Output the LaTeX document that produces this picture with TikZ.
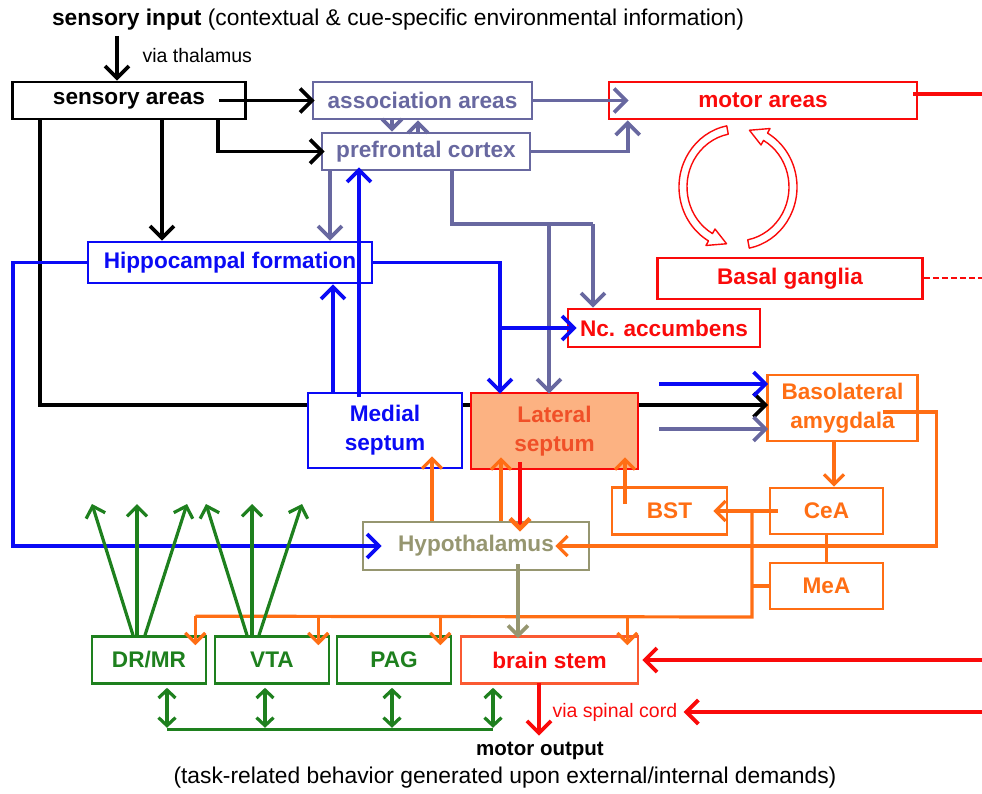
\documentclass[tikz,border=0pt]{standalone}
\usepackage{fontspec}
\setmainfont{Liberation Sans}
\usetikzlibrary{arrows.meta,calc}

\definecolor{slate}{RGB}{104,104,160}
\definecolor{hcblue}{RGB}{10,10,245}
\definecolor{hcred}{RGB}{250,10,10}
\definecolor{amyorange}{RGB}{255,110,20}
\definecolor{stemgreen}{RGB}{30,128,30}
\definecolor{hypolive}{RGB}{150,150,112}
\definecolor{lsfill}{RGB}{252,178,130}
\definecolor{lstext}{RGB}{240,80,40}
\definecolor{stemedge}{RGB}{250,90,50}

\begin{document}
\begin{tikzpicture}[x=1pt,y=-1pt,
    box/.style={draw,line width=2.6pt,inner sep=0pt,minimum height=37pt,align=center,
      font=\fontsize{22.6}{29}\selectfont\bfseries},
    blkbox/.style={box,draw=black,text=black},
    slatebox/.style={box,draw=slate,text=slate},
    redbox/.style={box,draw=hcred,text=hcred},
    bluebox/.style={box,draw=hcblue,text=hcblue},
    orbox/.style={box,draw=amyorange,text=amyorange},
    grnbox/.style={box,draw=stemgreen,text=stemgreen,minimum width=114pt,minimum height=47pt},
    tip/.style={-{Straight Barb[length=12pt,width=24pt]}},
    smalltip/.style={-{Straight Barb[length=10pt,width=20pt]}},
    blkln/.style={line width=3.8pt,draw=black},
    slateln/.style={line width=3.8pt,draw=slate},
    blueln/.style={line width=3.8pt,draw=hcblue},
    orln/.style={line width=3.2pt,draw=amyorange},
    redln/.style={line width=3.8pt,draw=hcred},
    grnln/.style={line width=3.2pt,draw=stemgreen}]

  \useasboundingbox (0,0) rectangle (982,794);

  %% Texts at top and bottom
  \node[font=\fontsize{22.8}{27}\selectfont] (title) at (398,20)
    {\textbf{sensory input} (contextual \& cue-specific environmental information)};
  \node[anchor=west,font=\fontsize{19.5}{23}\selectfont] (thaltext) at (139,56) {via thalamus};
  \node[font=\fontsize{20.5}{24}\selectfont\bfseries] (motorout) at (540,751) {motor output};
  \node[font=\fontsize{22.8}{27}\selectfont] (task) at (505,778)
    {(task-related behavior generated upon external/internal demands)};
  \node[anchor=west,text=hcred,font=\fontsize{19.5}{23}\selectfont] (spinal) at (549,712) {via spinal cord};

  %% Cortical boxes
  \node[blkbox,minimum width=233pt] (sens) at (129,100.5) {sensory areas};
  \node[slatebox,minimum width=219pt] (assoc) at (422.5,100.5) {association areas};
  \node[slatebox,minimum width=208pt] (pfc) at (426,151.5) {prefrontal cortex};
  \node[redbox,minimum width=308pt] (motor) at (763,100.5) {motor areas};
  \node[bluebox,minimum width=284pt,minimum height=41pt] (hippo) at (230,262.5) {Hippocampal formation};
  \node[redbox,minimum width=265pt,minimum height=41pt] (basal) at (790,278.5) {Basal ganglia};
  \node[redbox,minimum width=192pt,minimum height=38pt] (nacc) at (664,328) {Nc. accumbens};

  %% Septum, amygdala, hypothalamus
  \node[bluebox,minimum width=154pt,minimum height=75pt] (medial) at (385,430.5) {Medial\\septum};
  \node[box,draw=hcred,fill=lsfill,text=lstext,minimum width=167pt,minimum height=76pt] (lateral)
    at (554.5,431) {Lateral\\septum};
  \node[orbox,minimum width=150pt,minimum height=66pt] (bla) at (842.5,408) {Basolateral\\amygdala};
  \node[orbox,minimum width=113pt,minimum height=46pt] (cea) at (826.5,511) {CeA};
  \node[orbox,minimum width=113pt,minimum height=46pt] (mea) at (826.5,586) {MeA};
  \node[orbox,minimum width=115pt,minimum height=47pt] (bst) at (669.5,511) {BST};
  \node[box,draw=hypolive,text=hypolive,minimum width=226pt,minimum height=48pt] (hypo)
    at (476,546) {Hypothalamus};

  %% Brain stem row
  \node[grnbox] (drmr) at (149,660) {DR/MR};
  \node[grnbox] (vta) at (272,660) {VTA};
  \node[grnbox] (pag) at (394,660) {PAG};
  \node[box,draw=stemedge,text=hcred,minimum width=177pt,minimum height=47pt] (stem) at (549.5,660) {brain stem};

  %% Free ends
  \coordinate (thal) at (117,36);
  \coordinate (motorend) at (982,94);
  \coordinate (basalend) at (982,278.5);
  \coordinate (stemin) at (982,660);
  \coordinate (spinalin) at (982,712);
  \coordinate (blufree) at (659,384);
  \coordinate (slatefree) at (659,429);
  \coordinate (ojoin) at (752,617);

  %% Black connections
  \draw[blkln,tip] (thal) -- (thal |- sens.north);
  \draw[blkln,tip] ($(sens.east)+(-28,0)$) -- ($(assoc.west)+(3,0)$);
  \draw[blkln,tip] ($(sens.south east)+(-29,0)$) |- ($(pfc.west)+(4,0)$);
  \draw[blkln,tip] (sens.south -| 162,0) -- (hippo.north -| 162,0);
  \draw[blkln] (sens.south -| 40,0) |- (medial.west |- 0,405);
  \draw[blkln] (medial.east |- 0,405) -- (lateral.west |- 0,405);
  \draw[blkln,tip] (lateral.east |- 0,405) -- ($(bla.west)+(2,-3)$);

  %% Association and prefrontal cortex
  \draw[slateln,smalltip] (assoc.south -| 392,0) -- (pfc.north -| 392,0);
  \draw[slateln,smalltip] (pfc.north -| 418,0) -- (assoc.south -| 418,0);
  \draw[slateln,tip] (assoc.east) -- ($(motor.west)+(21,0)$);
  \draw[slateln,tip] (pfc.east) -| ($(motor.south west)+(20,0)$);
  \draw[slateln,tip] (pfc.south -| 330,0) -- (hippo.north -| 330,0);
  \draw[slateln] (pfc.south -| 452,0) |- (593,224);
  \draw[slateln,tip] (593,224) -- (nacc.north -| 593,0);
  \draw[slateln,tip] (549,224) -- ($(lateral.north)+(-5.5,2)$);
  \draw[slateln,tip] (slatefree) -- ($(bla.west)+(2,21)$);

  %% Hippocampus and medial septum
  \draw[blueln,tip] (medial.north -| 333,0) -- (hippo.south -| 333,0);
  \draw[blueln,tip] ($(medial.north)+(-26,5)$) -- ($(pfc.south)+(-67,-4)$);
  \draw[blueln,tip] (hippo.east) -| ($(lateral.north)+(-54.5,2)$);
  \draw[blueln,tip] (500,328) -- ($(nacc.west)+(10,0)$);
  \draw[blueln,tip] (hippo.west) -| (13,546) -- ($(hypo.west)+(20,0)$);
  \draw[blueln,tip] (blufree) -- ($(bla.west)+(2,-24)$);

  %% Amygdala and hypothalamus
  \draw[orln,smalltip] (bla.south -| 834,0) -- ($(cea.north)+(7.5,0)$);
  \draw[orln,smalltip] ($(bla.east)+(-36,4)$) -- ++(54,0) |- ($(hypo.east)+(-35,0)$);
  \draw[orln,smalltip] ($(cea.west)+(9,0)$) -- ($(bst.east)+(-15,0)$);
  \draw[orln] (cea.south) -- (mea.north);
  \draw[orln] (mea.west) -- (mea.west -| ojoin);
  \draw[orln] (ojoin |- cea.west) -- (ojoin) -- ($(drmr.north east)+(-12,-19)$);
  \foreach \t in {drmr,vta,pag,stem}{
    \draw[orln,smalltip] ($(\t.north east)+(-12,-19)$) -- ++(0,29);
  }
  \draw[orln,smalltip] ($(hypo.north)+(-44,0)$) -- ($(medial.south)+(47,-13)$);
  \draw[orln,smalltip] ($(hypo.north)+(25,0)$) -- ($(lateral.south)+(-53.5,-13)$);
  \draw[orln,smalltip] ($(bst.north)+(-44.5,18)$) -- ($(lateral.south)+(70.5,-13)$);
  \draw[line width=4.5pt,draw=hcred,-{Straight Barb[length=10pt,width=20pt,color=amyorange]}]
    ($(lateral.south)+(-34.5,-8)$) -- ($(hypo.north)+(44,11)$);
  \draw[line width=3.8pt,draw=hypolive,smalltip] ($(hypo.south)+(42,-7)$) -- ($(stem.north)+(-31.5,3)$);

  %% Motor side
  \draw[redln] ($(motor.east)+(-5,-6.5)$) -- (motorend);
  \draw[hcred,line width=2pt,dash pattern=on 6pt off 3pt] (basal.east) -- (basalend);
  \draw[redln,tip] (stemin) -- ($(stem.east)+(3,0)$);
  \draw[redln,tip] (spinalin) -- ($(spinal.east)+(3,0)$);
  \draw[redln,tip] ($(stem.south)+(-10.5,-2)$) -- ($(motorout.north)+(-1,-3)$);

  %% Loop between motor areas and basal ganglia
  \begin{scope}[shift={(738,187)},yscale=1.055]
    \filldraw[hcred,fill=white,line width=1.4pt,line join=round]
      (259:59) arc[start angle=259,end angle=120,radius=59] -- (120:64) -- (102:55)
      -- (120:46) -- (120:51) arc[start angle=120,end angle=259,radius=51] -- cycle;
    \filldraw[hcred,fill=white,line width=1.4pt,line join=round]
      (79:59) arc[start angle=79,end angle=-60,radius=59] -- (-60:64) -- (-78:55)
      -- (-60:46) -- (-60:51) arc[start angle=-60,end angle=79,radius=51] -- cycle;
  \end{scope}

  %% Brain stem projections
  \foreach \dx/\tx/\n in {-16/92/1,-12/137/2,-4/187/3}{
    \coordinate (fan\n) at (\tx,504);
    \draw[grnln,smalltip] ($(drmr.north)+(\dx,0)$) -- (fan\n);
  }
  \foreach \dx/\tx/\n in {-25/206/4,-20/252/5,-13/302/6}{
    \coordinate (fan\n) at (\tx,504);
    \draw[grnln,smalltip] ($(vta.north)+(\dx,0)$) -- (fan\n);
  }
  \foreach \t/\dx in {drmr/18,vta/-7,pag/-2,stem/-56.5}{
    \draw[grnln,{Straight Barb[length=8pt,width=17pt]}-{Straight Barb[length=8pt,width=17pt]}]
      ($(\t.south)+(\dx,3)$) -- ($(\t.south)+(\dx,43)$);
  }
  \draw[grnln] ($(drmr.south)+(18,45)$) -- ($(stem.south)+(-56.5,45)$);

\end{tikzpicture}
\end{document}
